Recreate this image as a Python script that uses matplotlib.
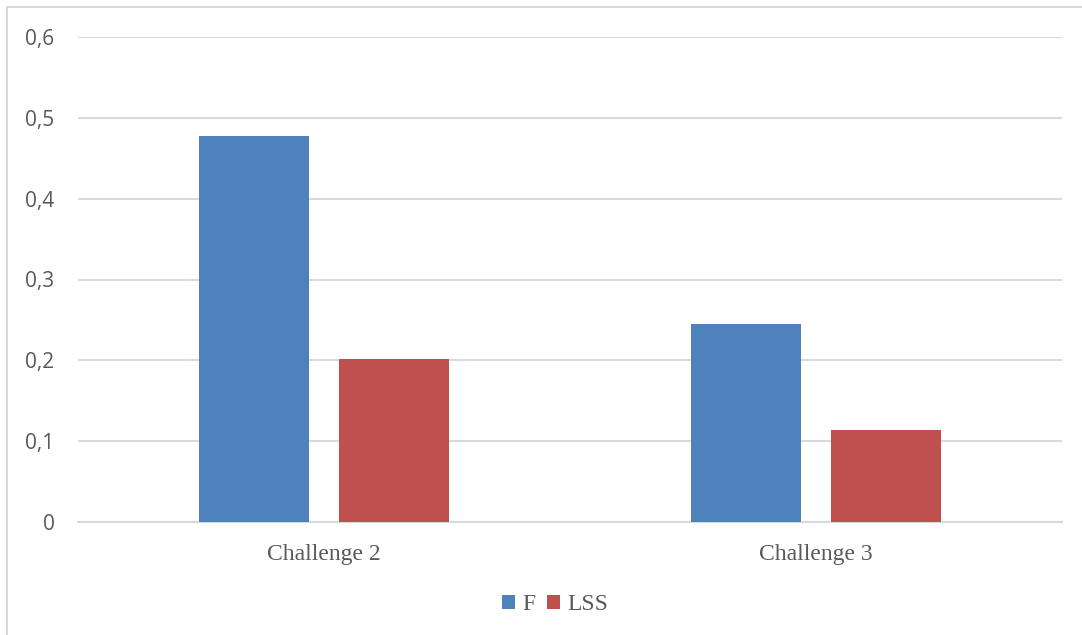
import matplotlib
matplotlib.use("Agg")
import matplotlib.pyplot as plt
from matplotlib.patches import Rectangle, Patch
import numpy as np

categories = ["Challenge 2", "Challenge 3"]
series_names = ["F", "LSS"]
f_values = [0.478, 0.245]
lss_values = [0.202, 0.114]
y_ticks = [0, 0.1, 0.2, 0.3, 0.4, 0.5, 0.6]
y_tick_labels = ["0", "0,1", "0,2", "0,3", "0,4", "0,5", "0,6"]

colors = ["#4F81BD", "#C0504D"]
grid_color = "#D9D9D9"
text_color = "#595959"

fig = plt.figure(figsize=(10.82, 6.35), dpi=100)
fig.patch.set_facecolor("white")

# chart-area frame (top and left edges visible)
fig.add_artist(Rectangle((7 / 1082, -0.05), 1.2, 1 - 7 / 635 + 0.05,
                         transform=fig.transFigure, fill=False,
                         edgecolor=grid_color, linewidth=1.5))

ax = fig.add_axes([78 / 1082, 1 - 522 / 635, (1062 - 78) / 1082, (522 - 37) / 635])

x = np.arange(len(categories))
width = 0.2236
offset = 0.1423
ax.bar(x - offset, f_values, width, color=colors[0], zorder=3, label=series_names[0])
ax.bar(x + offset, lss_values, width, color=colors[1], zorder=3, label=series_names[1])

ax.set_xlim(-0.5, 1.5)
ax.set_ylim(0, 0.6)
ax.set_yticks(y_ticks)
ax.set_yticklabels(y_tick_labels, fontfamily="Open Sans", fontsize=15, color=text_color)
ax.set_xticks(x)
ax.set_xticklabels(categories, fontfamily="Liberation Serif", fontsize=17, color=text_color)
ax.tick_params(axis="both", length=0)
ax.tick_params(axis="y", pad=17)
ax.tick_params(axis="x", pad=16)

ax.yaxis.grid(True, color=grid_color, linewidth=1.5, zorder=0)
for s in ["top", "right", "left"]:
    ax.spines[s].set_visible(False)
ax.spines["bottom"].set_color(grid_color)
ax.spines["bottom"].set_linewidth(1.5)

handles = [Patch(facecolor=c) for c in colors]
fig.legend(handles, series_names, loc="center", bbox_to_anchor=(555 / 1082, 1 - 605 / 635),
           ncol=2, frameon=False, handlelength=0.55, handleheight=0.55, handletextpad=0.3,
           columnspacing=0.5, prop={"family": "Liberation Serif", "size": 17},
           labelcolor=text_color)

fig.savefig("out.png", dpi=100, facecolor="white")
